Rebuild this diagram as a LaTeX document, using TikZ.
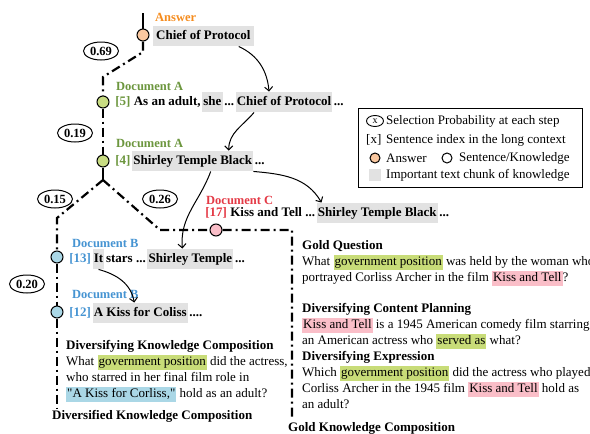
\documentclass[tikz,border=0pt]{standalone}
\usepackage{fontspec}
\setmainfont{Liberation Serif}[Ligatures=TeXOff]
\usetikzlibrary{positioning,shapes.geometric,arrows.meta}
\definecolor{docA}{RGB}{108,150,62}
\definecolor{docB}{RGB}{70,148,210}
\definecolor{docC}{RGB}{228,58,70}
\definecolor{anscol}{RGB}{245,140,30}
\definecolor{ansfill}{RGB}{250,200,160}
\definecolor{afill}{RGB}{200,220,130}
\definecolor{bfill}{RGB}{170,215,230}
\definecolor{cfill}{RGB}{250,190,200}
\definecolor{chunkgray}{RGB}{226,226,226}
\definecolor{hlgreen}{RGB}{200,220,120}
\definecolor{hlpink}{RGB}{250,190,200}
\definecolor{hlblue}{RGB}{170,215,230}
\newcommand{\hlbox}[2]{{\setlength{\fboxsep}{1pt}\colorbox{#1}{\rule[-3.5pt]{0pt}{12.5pt}#2}}}
\begin{document}
\begin{tikzpicture}[x=1pt,y=1pt,
seg/.style={
inner xsep=1.2pt,
inner ysep=4pt,
text height=9.5pt,
text depth=3pt,
font=\fontsize{13}{16}\selectfont\bfseries
},
chunk/.style={seg, fill=chunkgray},
dot/.style={circle, draw, line width=1pt, minimum size=12pt, inner sep=0pt},
prob/.style={ellipse, draw, line width=1pt, minimum width=35pt, minimum height=18pt, inner sep=0pt, font=\fontsize{12.5}{14}\selectfont\bfseries},
doc/.style={font=\fontsize{12.5}{16}\selectfont\bfseries, inner sep=1pt, anchor=west},
head/.style={font=\fontsize{13}{16}\selectfont\bfseries, inner sep=1pt, anchor=west},
legtext/.style={font=\fontsize{13}{16}\selectfont, inner sep=0pt, anchor=west},
para/.style={font=\fontsize{13}{16}\selectfont, align=left, anchor=north west, inner sep=0pt},
route/.style={line width=2.2pt, dash pattern=on 9pt off 4pt on 2pt off 4pt},
plainroute/.style={line width=2.2pt},
link/.style={-{Straight Barb[length=4pt,width=8pt]}, line width=1pt},
node distance=0pt
]
\useasboundingbox (0,0) rectangle (590,-434);

\coordinate (top) at (143,-13);
\coordinate (kneeA) at (103,-77);
\coordinate (split) at (103,-180);
\coordinate (kneeB) at (57,-218);
\coordinate (kneeC) at (160,-230);
\coordinate (cornerC) at (292,-230);
\coordinate (endC) at (292,-417);
\coordinate (endB) at (57,-408);

\node[dot, fill=ansfill] (ans) at (143,-35) {};
\node[dot, fill=afill] (a5) at (103,-102) {};
\node[dot, fill=afill] (a4) at (103,-161) {};
\node[dot, fill=cfill] (c17) at (216,-230) {};
\node[dot, fill=bfill] (b13) at (57,-257) {};
\node[dot, fill=bfill] (b12) at (57,-312) {};

\draw[plainroute] (top) -- (ans);
\draw[route] (ans) -- (143,-52) -- (kneeA) -- (a5);
\draw[route] (a5) -- (a4);
\draw[plainroute] (a4) -- (split);
\draw[route] (split) -- (kneeB) -- (b13);
\draw[route] (split) -- (kneeC) -- (c17) -- (cornerC) -- (endC);
\draw[route] (b13) -- (b12);
\draw[route] (b12) -- (endB);

\node[prob] (p69) at (101,-51) {0.69};
\node[prob] (p19) at (75,-133) {0.19};
\node[prob] (p15) at (55,-199) {0.15};
\node[prob] (p26) at (160,-199) {0.26};
\node[prob] (p20) at (27,-284) {0.20};

\node[doc, text=anscol] (lans) at (154,-17) {Answer};
\node[chunk, anchor=west, inner xsep=3pt] (chief) at (153,-36) {Chief of Protocol};

\node[doc, text=docA] (la5) at (115,-86) {Document A};
\node[seg, anchor=west] (a5i) at (114,-102) {\textcolor{docA}{[5]} As an adult,};
\node[chunk, base right=of a5i] (a5s) {she};
\node[seg, base right=of a5s] (a5d) {...};
\node[chunk, base right=of a5d] (a5c) {Chief of Protocol};
\node[seg, base right=of a5c] (a5e) {...};

\node[doc, text=docA] (la4) at (115,-143) {Document A};
\node[seg, anchor=west] (a4i) at (114,-161) {\textcolor{docA}{[4]}};
\node[chunk, base right=of a4i] (a4c) {Shirley Temple Black};
\node[seg, base right=of a4c] (a4e) {...};

\node[doc, text=docC] (lc17) at (205,-200) {Document C};
\node[seg, anchor=west] (c17i) at (204,-213) {\textcolor{docC}{[17]} Kiss and Tell ...};
\node[chunk, base right=of c17i] (c17c) {Shirley Temple Black};
\node[seg, base right=of c17c] (c17e) {...};

\node[doc, text=docB] (lb13) at (71,-243) {Document B};
\node[seg, anchor=west] (b13i) at (68,-259) {\textcolor{docB}{[13]}};
\node[chunk, base right=of b13i] (b13t) {It};
\node[seg, base right=of b13t] (b13s) {stars ...};
\node[chunk, base right=of b13s] (b13c) {Shirley Temple};
\node[seg, base right=of b13c] (b13e) {...};

\node[doc, text=docB] (lb12) at (71,-294) {Document B};
\node[seg, anchor=west] (b12i) at (68,-313) {\textcolor{docB}{[12]}};
\node[chunk, base right=of b12i] (b12c) {A Kiss for Coliss};
\node[seg, base right=of b12c] (b12e) {....};

\draw[link] ([xshift=-15pt]chief.south east) to[out=-25,in=95] ([xshift=-15pt]a5c.north);
\draw[link] ([xshift=-30pt]a5c.south) to[out=-130,in=90] ([xshift=36pt]a4c.north);
\draw[link] ([xshift=18pt]a4c.south) to[out=-110,in=95] ([xshift=-8pt]b13c.north);
\draw[link] (a4c.south east) to[out=-5,in=120] ([xshift=5pt]c17c.north west);
\draw[link] (b13t.south) to[out=-15,in=100] ([xshift=-6pt]b12c.north);

\node[para] (divq) at (66,-340) {\textbf{Diversifying Knowledge Composition}\\
What \hlbox{hlgreen}{government position} did the actress,\\
who starred in her final film role in\\
\hlbox{hlblue}{"A Kiss for Corliss,"} hold as an adult?};
\node[head] (divlabel) at (51,-416) {Diversified Knowledge Composition};

\node[para] (gold) at (302,-240) {\textbf{Gold Question}\\
What \hlbox{hlgreen}{government position} was held by the woman who\\
portrayed Corliss Archer in the film \hlbox{hlpink}{Kiss and Tell}?\\[15pt]
\textbf{Diversifying Content Planning}\\
\hlbox{hlpink}{Kiss and Tell} is a 1945 American comedy film starring\\
an American actress who \hlbox{hlgreen}{served as} what?\\
\textbf{Diversifying Expression}\\
Which \hlbox{hlgreen}{government position} did the actress who played\\
Corliss Archer in the 1945 film \hlbox{hlpink}{Kiss and Tell} hold as\\
an adult?};
\node[head] (goldlabel) at (287,-428) {Gold Knowledge Composition};

\node[draw, line width=1pt, minimum width=224pt, minimum height=79pt, anchor=north west] (legend) at (358,-108) {};
\node[ellipse, draw, line width=0.9pt, inner sep=0pt, minimum width=17pt, minimum height=11pt, font=\fontsize{10}{10}\selectfont] (keyprob) at (375,-121) {x};
\node[legtext] (tprob) at (386,-121) {Selection Probability at each step};
\node[legtext] (keyidx) at (366,-140) {[x]};
\node[legtext] (tidx) at (386,-140) {Sentence index in the long context};
\node[dot, fill=ansfill, minimum size=10pt] (keyans) at (375,-158) {};
\node[legtext] (tans) at (386,-158) {Answer};
\node[dot, minimum size=10pt] (keysent) at (447,-158) {};
\node[legtext] (tsent) at (459,-158) {Sentence/Knowledge};
\node[fill=chunkgray, minimum size=12pt, inner sep=0pt] (keychunk) at (375,-175) {};
\node[legtext] (tchunk) at (386,-175) {Important text chunk of knowledge};

\end{tikzpicture}
\end{document}
